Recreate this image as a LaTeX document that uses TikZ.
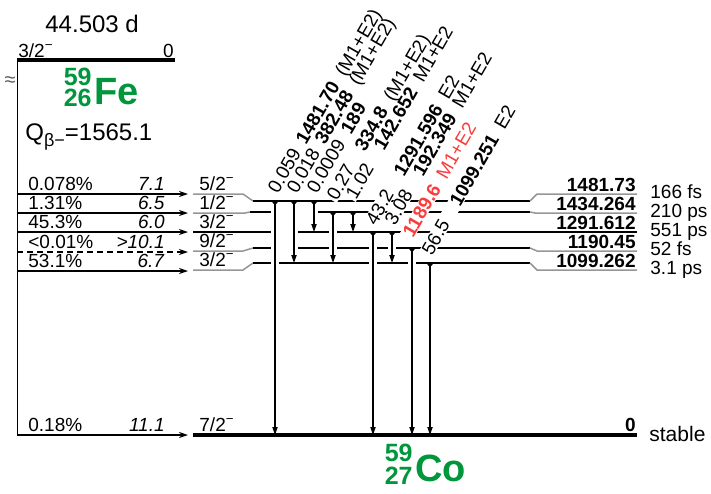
\documentclass[tikz,border=0pt]{standalone}
\usepackage{fontspec}
\setmainfont{Liberation Sans}
\usepackage{xcolor}
\usetikzlibrary{arrows.meta}
\definecolor{nucgreen}{RGB}{0,150,60}
\definecolor{gred}{RGB}{250,60,60}
\definecolor{stubgray}{RGB}{150,150,150}
\newcommand{\gint}[1]{\makebox[28pt][l]{#1}}
\newcommand{\mpsep}{\hspace{5pt}}

\begin{document}
\begin{tikzpicture}[
            x=0.5pt, y=-0.5pt,
            font=\fontsize{9.5}{11}\selectfont,
            txt/.style={inner sep=0pt, anchor=base west},
            txtr/.style={inner sep=0pt, anchor=base east},
            lvl/.style={line width=0.75pt},
            stub/.style={line width=0.75pt, draw=stubgray},
            gnd/.style={line width=1.6pt},
            feed/.style={line width=0.6pt, -{Stealth[length=4.5pt,width=3pt]}},
            gam/.style={line width=0.6pt,
            {Triangle[reversed,length=2.2pt,width=3.6pt]}-{Triangle[length=4pt,width=2.6pt]}},
            glab/.style={rotate=60, anchor=base west, fill=white,
            inner xsep=0.8pt, inner ysep=0.3pt, text depth=0pt},
            nuc/.style={font=\fontsize{19}{19}\selectfont\bfseries, text=nucgreen,
            inner sep=0pt, anchor=base west},
            nucn/.style={font=\fontsize{12.5}{12}\selectfont\bfseries, text=nucgreen,
            inner sep=0pt, anchor=base east}
        ]
\useasboundingbox (0,0) rectangle (711,493);
% parent 59Fe
            \draw[gnd] (17,60) -- (175,60);
            \draw[line width=0.5pt] (17,60) -- (17,435);
            \node[txt, font=\fontsize{12}{14}\selectfont] (hlf) at (45,32) {44.503 d};
            \node[txt]  (pjp) at (18,57)  {3/2\textsuperscript{−}};
            \node[txtr] (pen) at (174,57) {0};
            \node[inner sep=0pt, text=black!65, font=\fontsize{10}{10}\selectfont] (brk) at (10,82) {≈};
            \node[nucn] (fea) at (92,85)  {59};
            \node[nucn] (fez) at (92,106) {26};
            \node[nuc]  (fe)  at (94,104) {Fe};
            \node[txt, font=\fontsize{12}{14}\selectfont] (qbm) at (25,140)
                {Q\raisebox{-3pt}{\fontsize{9}{9}\selectfont β−}=1565.1};
% beta feeds
            \foreach \n/\y in {1/194,2/213,3/232,4/252,5/271,6/435}{
                \coordinate (bs\n) at (17,\y);
                \coordinate (be\n) at (188,\y);
            }
            \foreach \n in {1,2,3,5,6} \draw[feed] (bs\n) -- (be\n);
            \draw[feed, dash pattern=on 3pt off 2pt] (bs4) -- (be4);
            \node[txt]  (pc1) at (28,190)  {0.078\%};
            \node[txtr] (lf1) at (165,190) {\textit{7.1}};
            \node[txt]  (pc2) at (28,209)  {1.31\%};
            \node[txtr] (lf2) at (165,209) {\textit{6.5}};
            \node[txt]  (pc3) at (28,228)  {45.3\%};
            \node[txtr] (lf3) at (165,228) {\textit{6.0}};
            \node[txt]  (pc4) at (28,248)  {<0.01\%};
            \node[txtr] (lf4) at (165,248) {\textit{>10.1}};
            \node[txt]  (pc5) at (28,267)  {53.1\%};
            \node[txtr] (lf5) at (165,267) {\textit{6.7}};
            \node[txt]  (pc6) at (28,431)  {0.18\%};
            \node[txtr] (lf6) at (165,431) {\textit{11.1}};
% levels of 59Co
            \draw[stub] (193,194) -- (243,194) -- (253,201);
            \draw[lvl]  (253,201) -- (530,201);
            \draw[stub] (530,201) -- (537,194) -- (637,194);
            \draw[stub] (193,213) -- (245,213) -- (250,212);
            \draw[lvl]  (250,212) -- (271,212) (318,212) -- (530,212);
            \draw[stub] (530,212) -- (535,213) -- (637,213);
            \draw[lvl]  (193,232) -- (271,232) (298,232) -- (329,232) (337,232) -- (637,232);
            \draw[stub] (193,251) -- (243,251) -- (253,248);
            \draw[lvl]  (253,248) -- (271,248) (298,248) -- (329,248) (337,248) -- (369,248)
                        (377,248) -- (388,248) (396,248) -- (530,248);
            \draw[stub] (530,248) -- (537,251) -- (637,251);
            \draw[stub] (193,270) -- (243,270) -- (253,263);
            \draw[lvl]  (253,263) -- (271,263) (279,263) -- (369,263) (377,263) -- (408,263)
                        (416,263) -- (530,263);
            \draw[stub] (530,263) -- (537,270) -- (637,270);
            \draw[gnd]  (193,435) -- (637,435);
% level labels
            \node[txt] (j1) at (199,190) {5/2\textsuperscript{−}};
            \node[txt] (j2) at (199,209) {1/2\textsuperscript{−}};
            \node[txt] (j3) at (199,228) {3/2\textsuperscript{−}};
            \node[txt] (j4) at (199,247) {9/2\textsuperscript{−}};
            \node[txt] (j5) at (199,266) {3/2\textsuperscript{−}};
            \node[txt] (j0) at (199,431) {7/2\textsuperscript{−}};
            \node[txtr] (e1) at (636,191) {\textbf{1481.73}};
            \node[txtr] (e2) at (636,210) {\textbf{1434.264}};
            \node[txtr] (e3) at (636,229) {\textbf{1291.612}};
            \node[txtr] (e4) at (636,248) {\textbf{1190.45}};
            \node[txtr] (e5) at (636,267) {\textbf{1099.262}};
            \node[txtr] (e0) at (636,431) {\textbf{0}};
            \node[txt] (t1) at (650,198) {166 fs};
            \node[txt] (t2) at (650,217) {210 ps};
            \node[txt] (t3) at (650,236) {551 ps};
            \node[txt] (t4) at (650,255) {52 fs};
            \node[txt] (t5) at (650,274) {3.1 ps};
            \node[txt, font=\fontsize{10.5}{12}\selectfont] (t0) at (649,441) {stable};
            \node[nucn] (coa) at (413,461) {59};
            \node[nucn] (coz) at (413,484) {27};
            \node[nuc]  (co)  at (415,481) {Co};
% gamma rays
            \foreach \n/\gx/\gt/\gb in {1/275/201/435, 2/294/201/263, 3/314/201/232,
                4/333/212/263, 5/353/212/232, 6/373/232/435, 7/392/232/263,
                8/412/248/435, 9/430/263/435}{
                \coordinate (gt\n) at (\gx,\gt);
                \coordinate (gb\n) at (\gx,\gb);
            }
            \node[glab] (gl9) at (431,258) {\gint{56.5}\textbf{1099.251}\mpsep E2};
            \node[glab, text=gred] (gl8) at (412,240) {\textbf{1189.6}\mpsep M1+E2};
            \node[glab] (gl7) at (394,228) {\gint{3.08}\textbf{192.349}\mpsep M1+E2};
            \node[glab] (gl6) at (375,228) {\gint{43.2}\textbf{1291.596}\mpsep E2};
            \node[glab] (gl5) at (355,202) {\gint{1.02}\textbf{142.652}\mpsep M1+E2};
            \node[glab] (gl4) at (336,203) {\gint{0.27}\textbf{334.8}\mpsep (M1+E2)};
            \node[glab] (gl3) at (316,196) {0.0009\mpsep\textbf{189}};
            \node[glab] (gl2) at (296,196) {\gint{0.018}\textbf{382.48}\mpsep (M1+E2)};
            \node[glab] (gl1) at (277,196) {\gint{0.059}\textbf{1481.70}\mpsep (M1+E2)};
            \foreach \n in {1,...,9} \draw[gam] (gt\n) -- (gb\n);
        \end{tikzpicture}
\end{document}
